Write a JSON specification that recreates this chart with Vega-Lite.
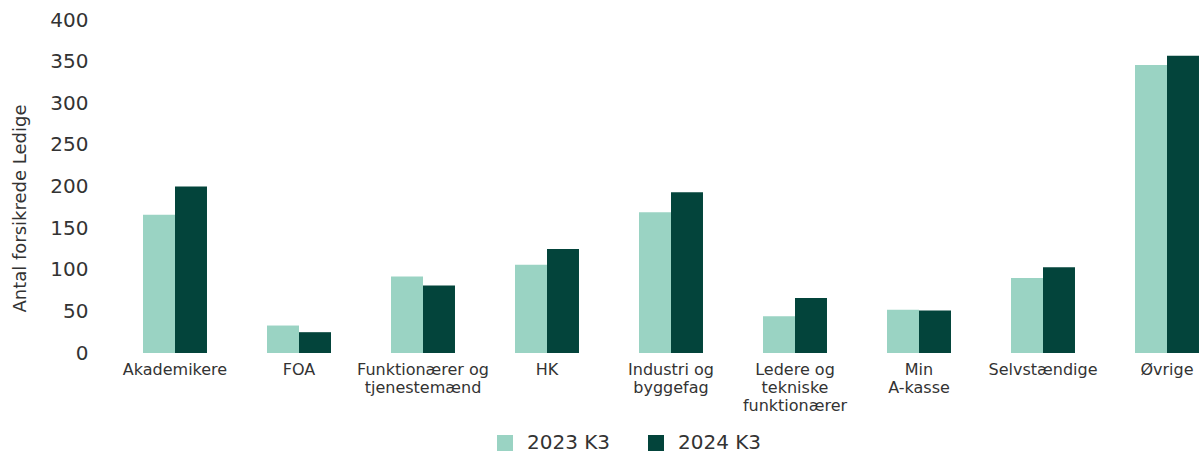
{
  "$schema": "https://vega.github.io/schema/vega-lite/v6.json",
  "autosize": "none",
  "padding": {"left": 113, "top": 20, "right": 0, "bottom": 102},
  "width": 1090,
  "height": 333,
  "background": "white",
  "data": {"values": [
    {"k": "Akademikere", "p": "2023 K3", "v": 166},
    {"k": "Akademikere", "p": "2024 K3", "v": 200},
    {"k": "FOA", "p": "2023 K3", "v": 33},
    {"k": "FOA", "p": "2024 K3", "v": 25},
    {"k": "Funktionærer og|tjenestemænd", "p": "2023 K3", "v": 92},
    {"k": "Funktionærer og|tjenestemænd", "p": "2024 K3", "v": 81},
    {"k": "HK", "p": "2023 K3", "v": 106},
    {"k": "HK", "p": "2024 K3", "v": 125},
    {"k": "Industri og|byggefag", "p": "2023 K3", "v": 169},
    {"k": "Industri og|byggefag", "p": "2024 K3", "v": 193},
    {"k": "Ledere og|tekniske|funktionærer", "p": "2023 K3", "v": 44},
    {"k": "Ledere og|tekniske|funktionærer", "p": "2024 K3", "v": 66},
    {"k": "Min|A-kasse", "p": "2023 K3", "v": 52},
    {"k": "Min|A-kasse", "p": "2024 K3", "v": 51},
    {"k": "Selvstændige", "p": "2023 K3", "v": 90},
    {"k": "Selvstændige", "p": "2024 K3", "v": 103},
    {"k": "Øvrige", "p": "2023 K3", "v": 346},
    {"k": "Øvrige", "p": "2024 K3", "v": 357}
  ]},
  "mark": {"type": "bar"},
  "encoding": {
    "x": {
      "field": "k", "type": "nominal", "sort": null,
      "scale": {"range": [0, 1116], "paddingInner": 0.484, "paddingOuter": 0.242},
      "axis": {
        "title": null, "labelAngle": 0, "domain": false, "ticks": false,
        "labelExpr": "split(datum.value, '|')",
        "labelFont": "DejaVu Sans", "labelFontSize": 16, "labelColor": "#333333",
        "labelPadding": 8, "labelLineHeight": 18, "labelBaseline": "top"
      }
    },
    "xOffset": {"field": "p", "type": "nominal"},
    "y": {
      "field": "v", "type": "quantitative",
      "scale": {"domain": [0, 400]},
      "axis": {
        "values": [0, 50, 100, 150, 200, 250, 300, 350, 400],
        "title": "Antal forsikrede Ledige",
        "titleFont": "DejaVu Sans", "titleFontSize": 18, "titleFontWeight": "normal", "titleColor": "#333333",
        "titleX": -93, "titleY": 188, "titleAngle": -90, "titleAlign": "center", "titleBaseline": "middle",
        "grid": false, "domain": false, "ticks": false,
        "labelFont": "DejaVu Sans", "labelFontSize": 20, "labelColor": "#333333", "labelPadding": 25
      }
    },
    "color": {
      "field": "p", "type": "nominal",
      "scale": {"domain": ["2023 K3", "2024 K3"], "range": ["#9ad3c3", "#03443b"]},
      "legend": {
        "title": null, "orient": "none", "direction": "horizontal",
        "legendX": 382, "legendY": 413,
        "symbolType": "square", "symbolSize": 256, "symbolStrokeWidth": 0,
        "labelFont": "DejaVu Sans", "labelFontSize": 20, "labelColor": "#333333",
        "labelOffset": 12, "columnPadding": 35
      }
    }
  },
  "config": {"view": {"stroke": null}}
}
